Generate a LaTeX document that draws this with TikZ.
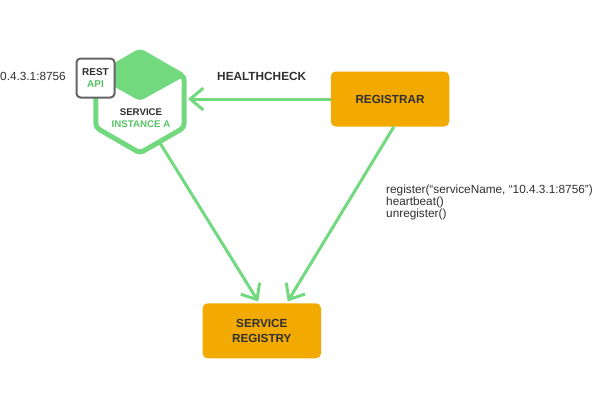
\documentclass[tikz,border=0pt]{standalone}
\usepackage{fontspec}
\setmainfont{Liberation Sans}
\usetikzlibrary{arrows.meta}
\definecolor{lgreen}{RGB}{114,217,127}
\definecolor{tgreen}{RGB}{88,194,104}
\definecolor{orng}{RGB}{242,169,0}
\definecolor{dtext}{RGB}{48,48,48}
\definecolor{gborder}{RGB}{100,100,100}
\begin{document}
\begin{tikzpicture}[x=1pt,y=-1pt,
  conn/.style={draw=lgreen, line width=3pt, -{Straight Barb[length=13pt,width=22pt]}},
  orbox/.style={fill=orng, rounded corners=5pt, minimum width=118.5pt, minimum height=55pt,
    align=center, font=\fontsize{11.7}{15}\selectfont\bfseries, text=dtext, inner sep=0pt},
  apibox/.style={fill=white, draw=gborder, line width=2pt, rounded corners=4pt,
    minimum width=38pt, minimum height=39pt, align=center, inner sep=0pt,
    font=\fontsize{10}{11.6}\selectfont\bfseries, text=dtext},
  plain/.style={inner sep=0pt, text=dtext, font=\fontsize{11.8}{12.2}\selectfont},
  hexline/.style={draw=lgreen, line width=5pt, rounded corners=4pt, line join=round}]
\fill[white] (0,0) rectangle (600,400);
\useasboundingbox (0,0) rectangle (600,400);

% hexagon (service instance)
\draw[hexline, fill=white] (140,51) -- (184.2,76.5) -- (184.2,127.5) -- (140,153) -- (95.8,127.5) -- (95.8,76.5) -- cycle;
\fill[lgreen, rounded corners=4pt] (140,101) -- (184.2,76.5) -- (140,51) -- (95.8,76.5) -- cycle;
\coordinate (hexE) at (188,99);
\coordinate (hexSE) at (160,143);

\node[apibox] (api) at (95.5,78) {REST\\\textcolor{tgreen}{API}};
\node[align=center, inner sep=0pt, text=dtext, font=\fontsize{9.7}{12.3}\selectfont\bfseries] (svc) at (141,118) {SERVICE\\\textcolor{tgreen}{INSTANCE A}};

\node[plain, anchor=west] (ip) at (0,76) {0.4.3.1:8756};

\node[orbox] (registrar) at (390,99) {REGISTRAR};
\node[orbox] (registry) at (261.8,330.8) {SERVICE\\REGISTRY};
\coordinate (r1) at (258.3,301.5);
\coordinate (r2) at (287.7,301.5);
\coordinate (regS) at (394,126.5);

\node[inner sep=0pt, text=dtext, font=\fontsize{11.8}{14}\selectfont\bfseries] (hc) at (261.7,76.7) {HEALTHCHECK};

\node[plain, anchor=west, align=left] (calls) at (386,202.3) {register(“serviceName, “10.4.3.1:8756”)\\heartbeat()\\unregister()};

\draw[conn] (registrar.west) -- (hexE);
\draw[conn] (hexSE) -- (r1);
\draw[conn] (regS) -- (r2);
\end{tikzpicture}
\end{document}
